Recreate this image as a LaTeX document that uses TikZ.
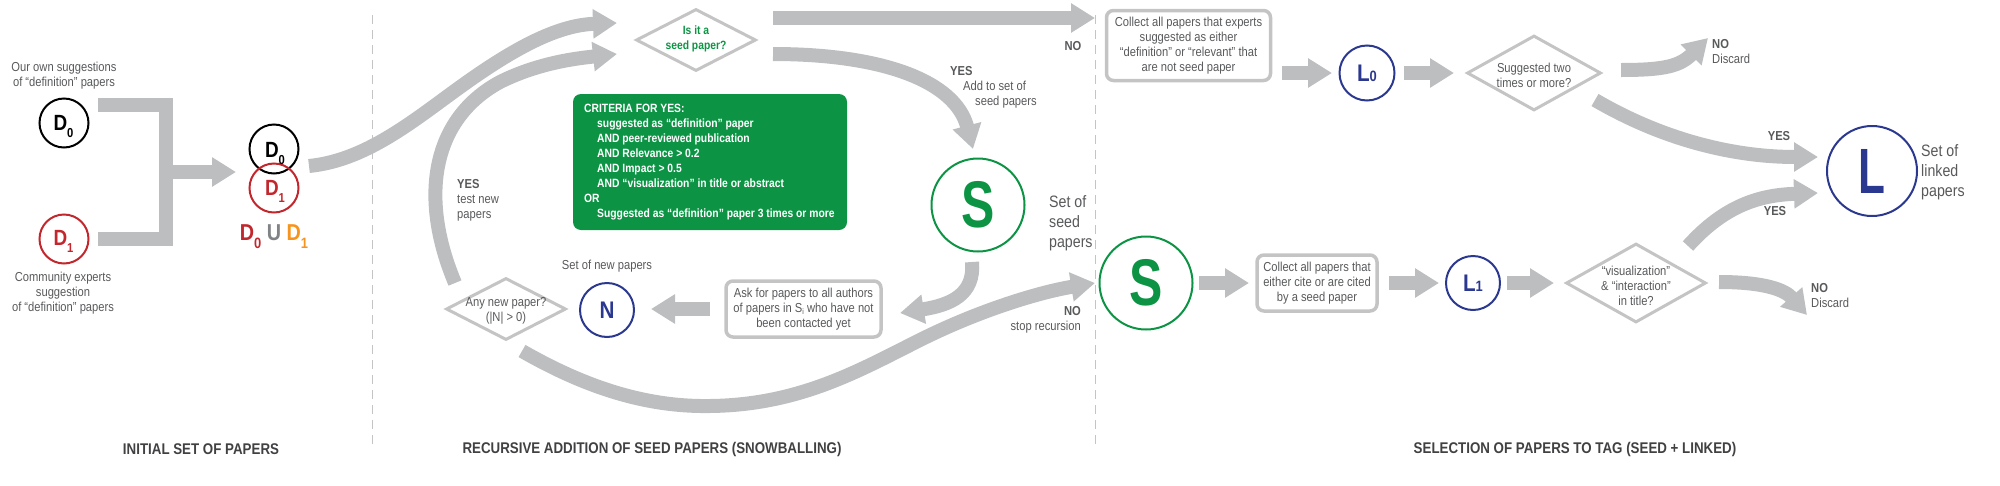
\documentclass[tikz,border=0pt]{standalone}
\usepackage{fontspec}
\setmainfont{Liberation Sans}[FakeStretch=0.86]
\usetikzlibrary{arrows.meta,shapes.geometric}
\definecolor{arrgray}{RGB}{188,190,192}
\definecolor{boxgray}{RGB}{196,196,196}
\definecolor{txtgray}{RGB}{88,89,91}
\definecolor{secgray}{RGB}{65,64,66}
\definecolor{ugray}{RGB}{128,130,133}
\definecolor{mygreen}{RGB}{12,148,68}
\definecolor{myblue}{RGB}{43,56,143}
\definecolor{myred}{RGB}{193,39,45}
\definecolor{myorange}{RGB}{247,148,29}
\newcommand\fsm{\fontsize{13}{15}\selectfont}
\newcommand\fcrit{\fontsize{12}{15}\selectfont\bfseries}
\newcommand\fbig{\fontsize{16.5}{20}\selectfont}
\newcommand\fsec{\fontsize{15.5}{18}\selectfont\bfseries}
\newcommand\dsm[1]{\raisebox{-7pt}{\fontsize{13}{13}\selectfont #1}}
\newcommand\dlg[1]{\raisebox{-8pt}{\fontsize{15}{15}\selectfont #1}}
\begin{document}
\begin{tikzpicture}[x=1pt,y=-1pt,
  arr/.style={draw=arrgray,line width=14pt,-{Triangle[length=24pt,width=28pt]}},
  shaft/.style={draw=arrgray,line width=14pt,line join=miter},
  ptext/.style={text=txtgray,font=\fsm,align=center,inner sep=0pt},
  lbl/.style={text=txtgray,font=\fsm,align=left,inner sep=0pt},
  pbox/.style={draw=boxgray,line width=3.5pt,rounded corners=7pt,inner sep=0pt,text=txtgray,font=\fsm,align=center},
  pdiam/.style={diamond,draw=boxgray,line width=3pt,inner sep=0pt},
  ring/.style={circle,line width=2pt,inner sep=0pt},
  sep/.style={draw=boxgray,line width=1pt,dash pattern=on 9pt off 6pt},
  sec/.style={text=secgray,font=\fsec,inner sep=0pt},
  dtext/.style={font=\fontsize{22}{22}\selectfont\bfseries,inner sep=0pt,anchor=base}
]
\useasboundingbox (0,0) rectangle (2000,485);

% separators
\coordinate (sepAt) at (372,15); \coordinate (sepAb) at (372,447);
\coordinate (sepBt) at (1095,15); \coordinate (sepBb) at (1095,447);
\draw[sep] (sepAt) -- (sepAb);
\draw[sep] (sepBt) -- (sepBb);

% ---------- initial set ----------
\node[ptext] (own) at (64,75.5) {Our own suggestions\\of “definition” papers};
\node[ring,draw=black,minimum size=49pt] (d0) at (64,123) {};
\node[dtext,text=black] (d0t) at (63.5,130) {D\dsm{0}};
\node[ring,draw=myred,minimum size=49pt] (d1) at (64,239) {};
\node[dtext,text=myred] (d1t) at (63.5,245) {D\dsm{1}};
\node[ptext] (comm) at (63,293) {Community experts\\suggestion\\of “definition” papers};

\coordinate (brA) at (98,105); \coordinate (brB) at (98,239);
\coordinate (brM) at (166,172); \coordinate (brE) at (236,172);
\draw[shaft] (brA) -- (166,105) -- (166,239) -- (brB);
\draw[arr] (brM) -- (brE);

\node[ring,draw=black,minimum size=49pt] (u0) at (274,149) {};
\node[ring,draw=myred,minimum size=49pt] (u1) at (274,188) {};
\node[dtext,text=black] (u0t) at (275,157) {D\dsm{0}};
\node[dtext,text=myred] (u1t) at (275,195) {D\dsm{1}};
\node[font=\fontsize{23}{23}\selectfont\bfseries,inner sep=0pt,anchor=base] (union) at (274,240)
  {\textcolor{myred}{D\dlg{0}} \textcolor{ugray}{U} \textcolor{myorange}{D\dlg{1}}};

% ---------- snowballing ----------
\node[pdiam,minimum width=120pt,minimum height=62pt] (dseed) at (696,40) {};
\node[text=mygreen,font=\fontsize{12}{15}\selectfont\bfseries,align=center,inner sep=0pt] (dseedt) at (696,39) {Is it a\\seed paper?};

\node[fill=mygreen,rounded corners=8pt,minimum width=274pt,minimum height=136pt,inner sep=0pt] (crit) at (710,162) {};
\node[text=white,font=\fcrit,align=left,inner sep=0pt,anchor=west] (critt) at (584,162.5)
 {CRITERIA FOR YES:\\
  \hspace*{13pt}suggested as “definition” paper\\
  \hspace*{13pt}AND peer-reviewed publication\\
  \hspace*{13pt}AND Relevance > 0.2\\
  \hspace*{13pt}AND Impact > 0.5\\
  \hspace*{13pt}AND “visualization” in title or abstract\\
  OR\\
  \hspace*{13pt}Suggested as “definition” paper 3 times or more};

\coordinate (a1s) at (309,166); \coordinate (a1e) at (617,23);
\draw[arr] (a1s) .. controls (370,160) and (420,115) .. (470,80) .. controls (520,45) and (560,25) .. (a1e);

\coordinate (a2s) at (455,283); \coordinate (a2e) at (617,54);
\draw[arr] (a2s) .. controls (420,200) and (430,120) .. (500,82) .. controls (540,62) and (580,58) .. (a2e);
\node[lbl,anchor=west] (yestest) at (457,200) {\textbf{YES}\\test new\\papers};

\coordinate (noS) at (773,18); \coordinate (noE) at (1095,18);
\draw[arr] (noS) -- (noE);
\node[text=txtgray,font=\fsm\bfseries,inner sep=0pt] (nolbl) at (1073,46) {NO};

\coordinate (ysS) at (773,54); \coordinate (ysE) at (973,149);
\draw[arr] (ysS) .. controls (880,54) and (955,80) .. (ysE);
\node[lbl,anchor=west] (yesadd) at (950,87) {\textbf{YES}\\\hspace*{13pt}Add to set of\\\hspace*{25pt}seed papers};

\node[ring,draw=mygreen,minimum size=93pt,text=mygreen,font=\fontsize{66}{66}\selectfont\bfseries] (S1) at (978,205) {\scalebox{0.88}[1]{S}};
\node[text=txtgray,font=\fbig,align=left,inner sep=0pt,anchor=west] (seedlbl) at (1049,223) {Set of\\seed\\papers};

\node[pbox,minimum width=155pt,minimum height=56pt] (ask) at (803.5,309)
  {Ask for papers to all authors\\of papers in S\raisebox{-2pt}{\fontsize{8}{8}\selectfont i} who have not\\been contacted yet};
\coordinate (skS) at (972,262); \coordinate (skE) at (900,313);
\draw[arr] (skS) .. controls (975,295) and (950,305) .. (skE);

\coordinate (anS) at (710,309); \coordinate (anE) at (651,309);
\draw[arr] (anS) -- (anE);
\node[ring,draw=myblue,minimum size=54pt,text=myblue,font=\fontsize{24}{24}\selectfont\bfseries] (N) at (607,310) {N};
\node[ptext] (newlbl) at (607,266) {Set of new papers};

\node[pdiam,minimum width=120pt,minimum height=62pt] (dany) at (506,309) {};
\node[ptext] (danyt) at (506,311) {Any new paper?\\(|N| > 0)};

\coordinate (bgS) at (522,351); \coordinate (bgE) at (1095,283);
\draw[arr] (bgS) .. controls (590,390) and (650,407) .. (710,406) .. controls (800,405) and (860,370) .. (920,340) .. controls (980,310) and (1040,292) .. (bgE);
\node[text=txtgray,font=\fsm,align=right,inner sep=0pt,anchor=east] (stoplbl) at (1081,319.5) {\textbf{NO}\\stop recursion};

% ---------- selection ----------
\node[pbox,minimum width=164pt,minimum height=70pt] (coll1) at (1188.5,45.5)
  {Collect all papers that experts\\suggested as either\\“definition” or “relevant” that\\are not seed paper};
\coordinate (c1S) at (1282,73); \coordinate (c1E) at (1332,73);
\draw[arr] (c1S) -- (c1E);
\node[ring,draw=myblue,minimum size=55pt,text=myblue,font=\fontsize{24}{24}\selectfont\bfseries] (L0) at (1367,73) {L{\fontsize{15}{15}\selectfont 0}};
\coordinate (l0S) at (1404,73); \coordinate (l0E) at (1454,73);
\draw[arr] (l0S) -- (l0E);
\node[pdiam,minimum width=134pt,minimum height=75pt] (dsug) at (1534,73) {};
\node[ptext] (dsugt) at (1534,75.5) {Suggested two\\times or more?};

\coordinate (n1S) at (1621,70); \coordinate (n1E) at (1708,38);
\draw[arr] (n1S) .. controls (1665,70) and (1680,66) .. (n1E);
\node[lbl,anchor=west] (disc1) at (1712,51.5) {\textbf{NO}\\Discard};

\coordinate (y1S) at (1595,100); \coordinate (y1E) at (1818,157);
\draw[arr] (y1S) .. controls (1660,138) and (1730,157) .. (y1E);
\node[text=txtgray,font=\fsm\bfseries,inner sep=0pt] (yes1) at (1779,136) {YES};

\node[ring,draw=myblue,minimum size=90pt] (L) at (1872,171) {};
\node[text=myblue,font=\fontsize{64}{64}\selectfont\bfseries,inner sep=0pt] (Lt) at (L.center) {\scalebox{0.8}[1]{L}};
\node[text=txtgray,font=\fbig,align=left,inner sep=0pt,anchor=west] (linklbl) at (1921,172) {Set of\\linked\\papers};

\node[ring,draw=mygreen,minimum size=93pt,text=mygreen,font=\fontsize{66}{66}\selectfont\bfseries] (S2) at (1146,283) {\scalebox{0.88}[1]{S}};
\coordinate (s2S) at (1199,283); \coordinate (s2E) at (1249,283);
\draw[arr] (s2S) -- (s2E);
\node[pbox,minimum width=120pt,minimum height=56pt] (coll2) at (1317,283)
  {Collect all papers that\\either cite or are cited\\by a seed paper};
\coordinate (c2S) at (1389,283); \coordinate (c2E) at (1439,283);
\draw[arr] (c2S) -- (c2E);
\node[ring,draw=myblue,minimum size=54pt,text=myblue,font=\fontsize{24}{24}\selectfont\bfseries] (L1) at (1473,283) {L{\fontsize{15}{15}\selectfont 1}};
\coordinate (l1S) at (1507,283); \coordinate (l1E) at (1554,283);
\draw[arr] (l1S) -- (l1E);
\node[pdiam,minimum width=140pt,minimum height=79pt] (dvis) at (1636,283) {};
\node[ptext] (dvist) at (1636,286) {“visualization”\\\& “interaction”\\in title?};

\coordinate (y2S) at (1688,246); \coordinate (y2E) at (1818,193);
\draw[arr] (y2S) .. controls (1725,205) and (1760,195) .. (y2E);
\node[text=txtgray,font=\fsm\bfseries,inner sep=0pt] (yes2) at (1775,211) {YES};

\coordinate (n2S) at (1719,282); \coordinate (n2E) at (1807,315);
\draw[arr] (n2S) .. controls (1765,282) and (1785,290) .. (n2E);
\node[lbl,anchor=west] (disc2) at (1811,296) {\textbf{NO}\\Discard};

% section labels
\node[sec] (secA) at (201,449) {INITIAL SET OF PAPERS};
\node[sec] (secB) at (652,449) {RECURSIVE ADDITION OF SEED PAPERS (SNOWBALLING)};
\node[sec] (secC) at (1575,449) {SELECTION OF PAPERS TO TAG (SEED + LINKED)};
\end{tikzpicture}
\end{document}
